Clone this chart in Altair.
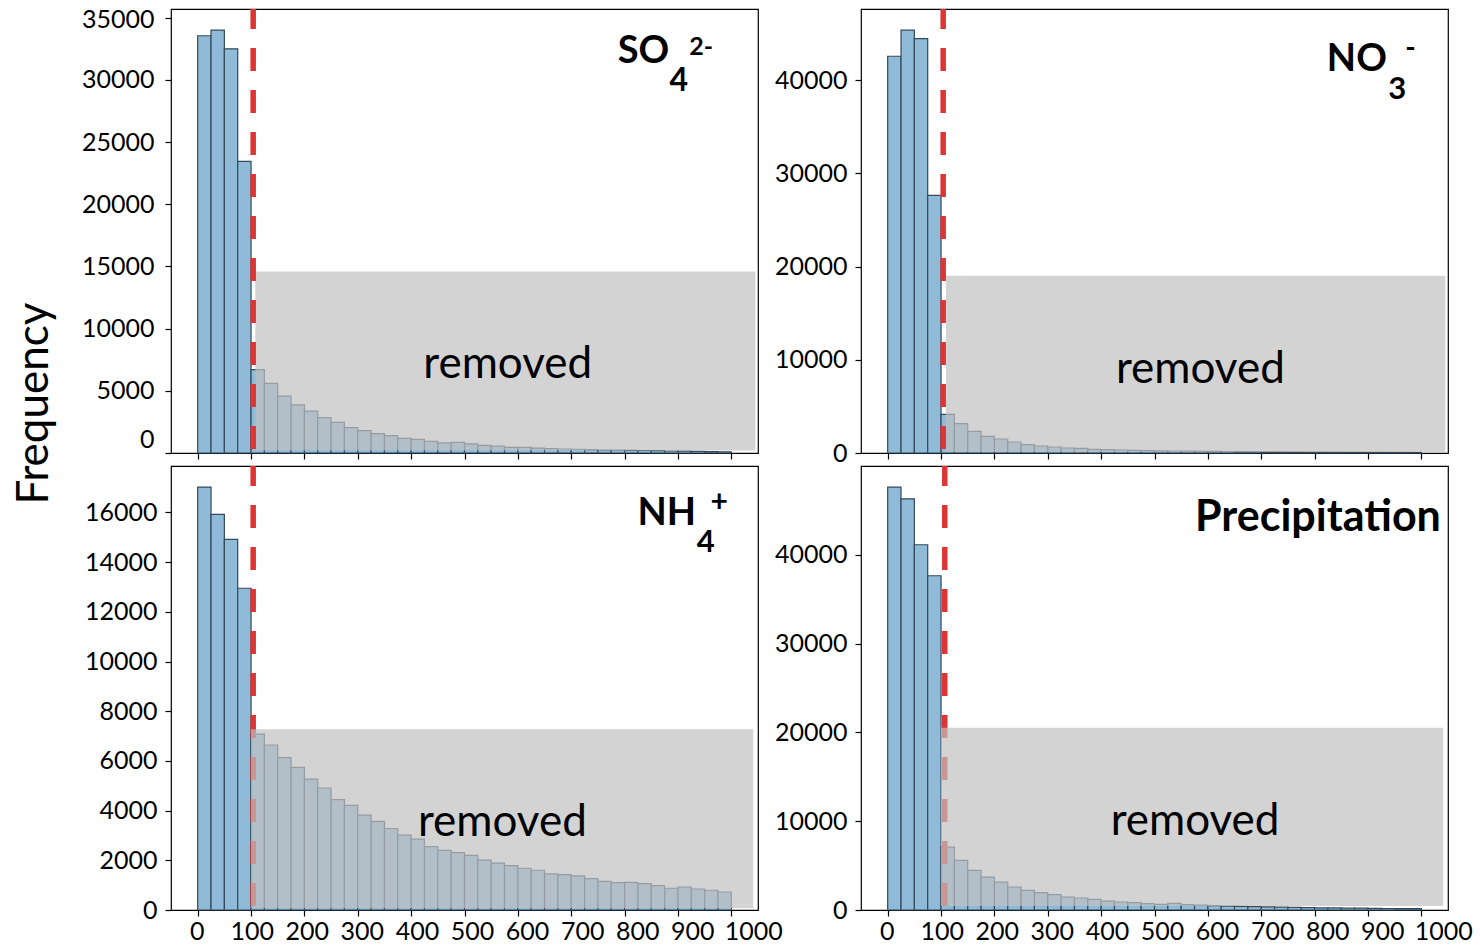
import altair as alt
import pandas as pd

# ---------------- data ----------------
bin_starts = list(range(0, 1000, 25))
bin_width = 25

so4_counts = [33550, 34000, 32500, 23450, 6700, 5600, 4580, 3870, 3360, 2850,
              2470, 2040, 1800, 1560, 1400, 1180, 1100, 940, 810, 860,
              730, 620, 560, 460, 460, 400, 350, 320, 300, 270,
              240, 240, 215, 200, 185, 160, 145, 130, 115, 100]
no3_counts = [42550, 45350, 44450, 27640, 4140, 3140, 2320, 1780, 1500, 1180,
              890, 750, 645, 535, 495, 385, 355, 320, 280, 245,
              230, 215, 200, 185, 170, 160, 150, 140, 130, 120,
              110, 100, 95, 90, 85, 80, 75, 70, 65, 60]
nh4_counts = [17020, 15920, 14920, 12950, 7080, 6640, 6130, 5740, 5270, 4910,
              4440, 4210, 3820, 3570, 3280, 3010, 2850, 2550, 2400, 2310,
              2200, 2010, 1890, 1790, 1680, 1600, 1450, 1425, 1370, 1265,
              1155, 1105, 1115, 1060, 980, 875, 925, 845, 795, 725]
prcp_counts = [47630, 46310, 41140, 37650, 7090, 5590, 4470, 3710, 3150, 2590,
               2220, 1960, 1730, 1460, 1350, 1200, 1010, 900, 830, 720,
               640, 750, 610, 560, 495, 440, 400, 380, 350, 320,
               300, 270, 250, 230, 210, 200, 180, 170, 160, 150]

so4_yticks = [0, 5000, 10000, 15000, 20000, 25000, 30000, 35000]
no3_yticks = [0, 10000, 20000, 30000, 40000]
nh4_yticks = [0, 2000, 4000, 6000, 8000, 10000, 12000, 14000, 16000]
prcp_yticks = [0, 10000, 20000, 30000, 40000]
x_ticks = [0, 100, 200, 300, 400, 500, 600, 700, 800, 900, 1000]

cutoff_lines = [104, 104, 104, 107]          # dashed threshold per panel
removed_x0 = [108, 109, 100, 100]
removed_x1 = [1045, 1045, 1041, 1041]
removed_y0 = [200, 100, 70, 450]
removed_y1 = [14600, 19020, 7270, 20520]
removed_text_x = [581, 586, 571, 576]
removed_text_y = [6050, 7540, 2990, 8400]

so4_label = {"text": ["SO", "4", "2-"], "x": [787, 884, 921],
             "y": [31370, 29110, 32020], "fs": [38, 32, 25]}
no3_label = {"text": ["NO", "3", "-"], "x": [823, 938, 970],
             "y": [40940, 38015, 42500], "fs": [38, 31, 28]}
nh4_label = {"text": ["NH", "4", "+"], "x": [824, 935, 961],
             "y": [15490, 14390, 16000], "fs": [38, 31, 30]}
prcp_label = {"text": ["Precipitation"], "x": [576],
              "y": [42710], "fs": [43]}

FONT = "Lato"
W, H = 587, 444
BAR_FILL = "#8fbbd9"
BAR_STROKE = "#34495a"
RED = "#dc3535"


def make_panel(counts, ymax, yticks, idx, label, line_on_top, bottom_row,
               y_title=False, label_shift_expr=None, ylab_pad=8):
    n = len(counts)
    bars_df = pd.DataFrame({
        "start": bin_starts[:n],
        "end": [s + bin_width for s in bin_starts[:n]],
        "count": counts,
        "zero": [0] * n,
    })
    xaxis_kw = dict(values=x_ticks, title=None, grid=False, domain=False,
                    ticks=True, tickSize=6, tickWidth=1.2, tickColor="black",
                    labels=bottom_row, labelFont=FONT, labelFontSize=25,
                    labelColor="black", labelPadding=3, labelFlush=False,
                    format="d")
    if bottom_row:
        xaxis_kw["labelOffset"] = {
            "expr": "datum.value * 0.017 - 1 + (datum.value === 1000 ? 6 : 0)"}
    xaxis = alt.Axis(**xaxis_kw)
    yaxis_kw = dict(values=yticks, grid=False, domain=False, ticks=True,
                    tickSize=6, tickWidth=1.2, tickColor="black",
                    labelFont=FONT, labelFontSize=25, labelColor="black",
                    labelPadding=ylab_pad, format="d")
    if label_shift_expr:
        yaxis_kw["labelOffset"] = {"expr": label_shift_expr}
    if y_title:
        yaxis_kw.update(title="Frequency", titleFont=FONT, titleFontSize=44,
                        titleFontWeight="normal", titleColor="black",
                        titleX=-124, titleY=394, titleAngle=-90,
                        titleAlign="center", titleBaseline="alphabetic")
    else:
        yaxis_kw["title"] = None
    yaxis = alt.Axis(**yaxis_kw)

    xs = alt.Scale(domain=[-50, 1050], nice=False, zero=False)
    ys = alt.Scale(domain=[0, ymax], nice=False, zero=False)

    def X(f):
        return alt.X(f, scale=xs, axis=xaxis)

    def Y(f):
        return alt.Y(f, scale=ys, axis=yaxis)

    bars = alt.Chart(bars_df).mark_bar(
        fill=BAR_FILL, stroke=BAR_STROKE, strokeWidth=1.2, opacity=1
    ).encode(x=X("start:Q"), x2="end:Q", y=Y("count:Q"), y2="zero:Q")

    rect_df = pd.DataFrame({"x0": [removed_x0[idx]], "x1": [removed_x1[idx]],
                            "y0": [removed_y0[idx]], "y1": [removed_y1[idx]]})
    rect = alt.Chart(rect_df).mark_rect(fill="#c0c0c0", opacity=0.7).encode(
        x=X("x0:Q"), x2="x1:Q", y=Y("y1:Q"), y2="y0:Q")

    line_df = pd.DataFrame({"x": [cutoff_lines[idx]], "top": [ymax], "bot": [0]})
    rule = alt.Chart(line_df).mark_rule(
        color=RED, strokeWidth=5.5, strokeDash=[23, 19], strokeDashOffset=3
    ).encode(x=X("x:Q"), y=Y("top:Q"), y2="bot:Q")

    rem_df = pd.DataFrame({"x": [removed_text_x[idx]], "y": [removed_text_y[idx]],
                           "t": ["removed"]})
    rem = alt.Chart(rem_df).mark_text(
        font=FONT, fontSize=44, color="black", align="center",
        baseline="alphabetic").encode(x=X("x:Q"), y=Y("y:Q"), text="t:N")

    lab_df = pd.DataFrame(label)
    lab = alt.Chart(lab_df).mark_text(
        font=FONT, fontWeight="bold", color="black", align="left",
        baseline="alphabetic").encode(
        x=X("x:Q"), y=Y("y:Q"), text="text:N",
        size=alt.Size("fs:Q", scale=None, legend=None))

    if line_on_top:
        layers = [bars, rect, rule, rem, lab]
    else:
        layers = [bars, rule, rect, rem, lab]
    return alt.layer(*layers).properties(width=W, height=H)


tl = make_panel(so4_counts, 35700, so4_yticks, 0, so4_label, True, False,
                y_title=True, ylab_pad=11,
                label_shift_expr="datum.value === 0 ? -14 : (datum.value === 35000 ? 2 : 0)")
tr = make_panel(no3_counts, 47620, no3_yticks, 1, no3_label, True, False)
bl = make_panel(nh4_counts, 17870, nh4_yticks, 2, nh4_label, False, True)
br = make_panel(prcp_counts, 50010, prcp_yticks, 3, prcp_label, False, True)

chart = alt.concat(tl, tr, bl, br, columns=2,
                   spacing={"row": 13, "column": 103}, bounds="flush").properties(
    padding={"left": 3, "top": -3, "right": 0, "bottom": 0},
    background="white"
).configure_view(stroke="black", strokeWidth=1.2)

chart.save("out.html", embed_options={"renderer": "svg", "actions": False})
